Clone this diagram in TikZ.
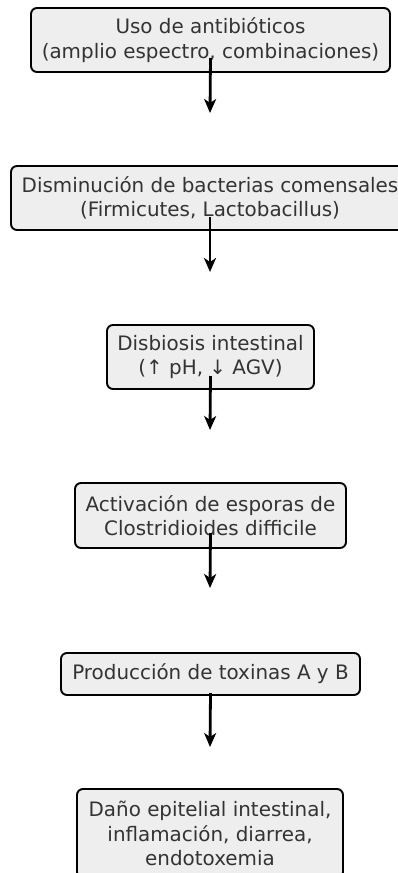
\documentclass[tikz,border=0pt]{standalone}
\usepackage{fontspec}
\setmainfont{DejaVu Sans}
\usetikzlibrary{arrows.meta}
\definecolor{boxfill}{HTML}{EEEEEE}
\definecolor{txt}{HTML}{333333}
\tikzset{
  flowbox/.style={draw=black, line width=1.9pt, rounded corners=6pt, fill=boxfill,
    text=txt, align=center, font=\fontsize{19.9}{24.5}\selectfont, inner sep=0pt},
  flowarrow/.style={line width=2.8pt, -{Stealth[length=14pt,width=12pt,inset=4pt]}}
}
\begin{document}
\begin{tikzpicture}[x=1pt,y=-1pt]
\useasboundingbox (0,0) rectangle (398,873);
\node[flowbox, minimum width=359pt, minimum height=64pt] (b1) at (210.5,40) {Uso de antibióticos\\(amplio espectro, combinaciones)};
\node[flowbox, minimum width=398pt, minimum height=64pt] (b2) at (210,198) {Disminución de bacterias comensales\\(Firmicutes, Lactobacillus)};
\node[flowbox, minimum width=207pt, minimum height=64pt] (b3) at (210.5,357) {Disbiosis intestinal\\(↑ pH, ↓ AGV)};
\node[flowbox, minimum width=271pt, minimum height=65pt] (b4) at (210.5,515.5) {Activación de esporas de\\Clostridioides difficile};
\node[flowbox, minimum width=299pt, minimum height=42pt] (b5) at (210.5,674) {Producción de toxinas A y B};
\node[flowbox, minimum width=266pt, minimum height=89pt] (b6) at (210,833.5) {Daño epitelial intestinal,\\inflamación, diarrea,\\endotoxemia};
\coordinate (t1) at (210,113);
\coordinate (t2) at (210,272);
\coordinate (t3) at (210,430);
\coordinate (t4) at (210,588);
\coordinate (t5) at (210,747);
\draw[flowarrow] ([yshift=-18pt]b1.center) -- (t1);
\draw[flowarrow] ([yshift=-19pt]b2.center) -- (t2);
\draw[flowarrow] ([yshift=-19pt]b3.center) -- (t3);
\draw[flowarrow] ([yshift=-17.5pt]b4.center) -- (t4);
\draw[flowarrow] ([yshift=-19pt]b5.center) -- (t5);
\end{tikzpicture}
\end{document}
